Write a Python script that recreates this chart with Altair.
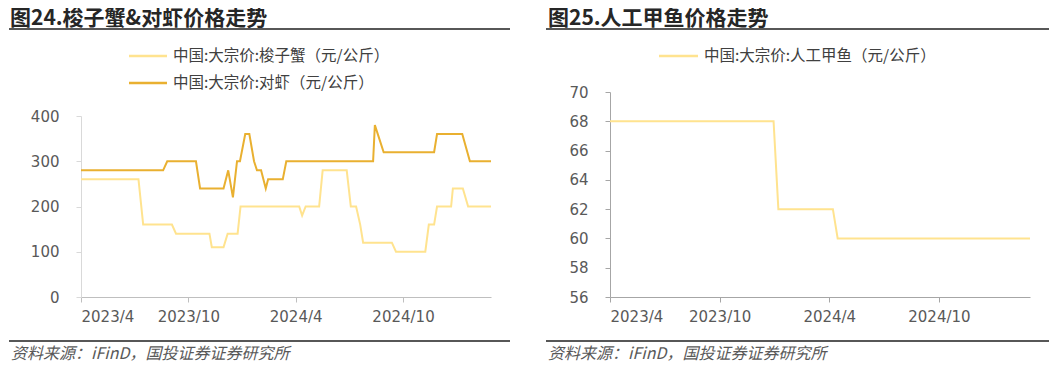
import altair as alt
import pandas as pd

# ---------------- data ----------------
crab_name = "中国:大宗价:梭子蟹（元/公斤）"
shrimp_name = "中国:大宗价:对虾（元/公斤）"
turtle_name = "中国:大宗价:人工甲鱼（元/公斤）"

crab_dates = ["2023-04-01", "2023-07-08", "2023-07-16", "2023-09-03", "2023-09-10",
              "2023-11-06", "2023-11-10", "2023-11-30", "2023-12-07", "2023-12-24",
              "2023-12-29", "2024-04-07", "2024-04-12", "2024-04-18", "2024-05-11",
              "2024-05-17", "2024-06-27", "2024-07-04", "2024-07-13", "2024-07-20",
              "2024-07-25", "2024-09-12", "2024-09-19", "2024-11-08", "2024-11-14",
              "2024-11-23", "2024-11-28", "2024-12-22", "2024-12-25", "2025-01-11",
              "2025-01-20", "2025-02-28"]
crab_values = [260, 260, 160, 160, 140,
               140, 110, 110, 140, 140,
               200, 200, 180, 200, 200,
               280, 280, 200, 200, 160,
               120, 120, 100, 100, 160,
               160, 200, 200, 240, 240,
               200, 200]

shrimp_dates = ["2023-04-01", "2023-08-19", "2023-08-26", "2023-10-14", "2023-10-21",
                "2023-11-30", "2023-12-08", "2023-12-16", "2023-12-23", "2023-12-28",
                "2024-01-06", "2024-01-13", "2024-01-21", "2024-01-26", "2024-02-02",
                "2024-02-10", "2024-02-14", "2024-03-10", "2024-03-16", "2024-08-11",
                "2024-08-14", "2024-08-19", "2024-08-29", "2024-11-23", "2024-11-28",
                "2025-01-10", "2025-01-23", "2025-02-28"]
shrimp_values = [280, 280, 300, 300, 240,
                 240, 280, 220, 300, 300,
                 360, 360, 300, 280, 280,
                 240, 260, 260, 300, 300,
                 380, 360, 320, 320, 360,
                 360, 300, 300]

turtle_dates = ["2023-04-01", "2023-12-30", "2024-01-07", "2024-04-07", "2024-04-15", "2025-03-02"]
turtle_values = [68, 68, 62, 62, 60, 60]

tick_dates = ["2023-04-01", "2023-10-01", "2024-04-01", "2024-10-01"]
left_y_ticks = [0, 100, 200, 300, 400]
right_y_ticks = [56, 58, 60, 62, 64, 66, 68, 70]

title_left = "图24.梭子蟹&对虾价格走势"
title_right = "图25.人工甲鱼价格走势"
source_text = "资料来源：iFinD，国投证券证券研究所"

crab_color = "#FFE38F"
shrimp_color = "#E9B030"

# ---------------- helpers ----------------
LABEL_FONT = "DejaVu Sans"
CJK = "Noto Sans CJK SC"


def one():
    return alt.Data(values=[{}])


def rule(x1, x2, y, color="#1f1f1f", w=1.5):
    return alt.Chart(one()).mark_rule(color=color, strokeWidth=w).encode(
        x=alt.value(x1), x2=alt.value(x2), y=alt.value(y))


def text(x, y, s, **kw):
    return alt.Chart(one()).mark_text(align="left", **kw).encode(
        x=alt.value(x), y=alt.value(y), text=alt.value(s))


def dt(s):
    y, m, d = [int(v) for v in s.split("-")]
    return alt.DateTime(year=y, month=m, date=d, utc=True)


def x_enc(end, axis_color):
    return alt.X(
        "date:T",
        scale=alt.Scale(type="utc", domain=[dt("2023-04-01"), dt(end)]),
        axis=alt.Axis(
            title=None, values=[dt(t) for t in tick_dates],
            labelExpr="utcFormat(datum.value, '%Y/%-m')",
            grid=False, domainColor=axis_color, tickColor=axis_color,
            tickSize=5, labelPadding=7, labelFont=LABEL_FONT, labelFontSize=15,
            labelColor="#595959", labelAngle=0,
        ),
    )


def y_axis(values, color):
    return alt.Axis(title=None, values=values, grid=False,
                    domainColor=color, tickColor=color, tickSize=5,
                    labelPadding=17, labelFont=LABEL_FONT, labelFontSize=15,
                    labelColor="#595959")


H = 205          # both panels share the same plot top; left scale uses a shorter range
TITLE_Y = -84
LEG_FONT = 15.5
TITLE_FONT = 21
SRC_FONT = 16

# ---------------- left panel ----------------
left_df = pd.DataFrame({
    "date": crab_dates + shrimp_dates,
    "value": crab_values + shrimp_values,
    "series": [crab_name] * len(crab_dates) + [shrimp_name] * len(shrimp_dates),
})

left_lines = alt.Chart(left_df).mark_line(strokeWidth=2).encode(
    x=x_enc("2025-02-28", "#BFBFBF"),
    y=alt.Y("value:Q", scale=alt.Scale(domain=[0, 400], nice=False, range=[H, 24]),
            axis=y_axis(left_y_ticks, "#D9D9D9")),
    color=alt.Color("series:N", scale=alt.Scale(domain=[crab_name, shrimp_name],
                                                range=[crab_color, shrimp_color]),
                    legend=None),
)

left_panel = alt.layer(
    left_lines,
    text(-71, TITLE_Y, title_left, baseline="top", font=CJK, fontSize=TITLE_FONT,
         fontWeight="bold", color="#262626"),
    rule(-72, 429, -63),
    rule(48, 86, -36, crab_color, 2.5),
    text(92, -36, crab_name, baseline="middle", font=CJK, fontSize=LEG_FONT, color="#404040"),
    rule(48, 86, -9, shrimp_color, 2.5),
    text(92, -9, shrimp_name, baseline="middle", font=CJK, fontSize=LEG_FONT, color="#404040"),
    rule(-72, 429, 249),
    text(-70, 262, source_text, baseline="middle", font=CJK, fontSize=SRC_FONT,
         fontStyle="italic", color="#595959"),
).properties(width=410, height=H)

# ---------------- right panel ----------------
right_df = pd.DataFrame({"date": turtle_dates, "value": turtle_values})

right_line = alt.Chart(right_df).mark_line(strokeWidth=2, color=crab_color).encode(
    x=x_enc("2025-03-02", "#A6A6A6"),
    y=alt.Y("value:Q", scale=alt.Scale(domain=[56, 70], nice=False, zero=False),
            axis=y_axis(right_y_ticks, "#A6A6A6")),
)

right_panel = alt.layer(
    right_line,
    text(-62, TITLE_Y, title_right, baseline="top", font=CJK, fontSize=TITLE_FONT,
         fontWeight="bold", color="#262626"),
    rule(-64, 439, -63),
    rule(49, 88, -36, crab_color, 2.5),
    text(94, -36, turtle_name, baseline="middle", font=CJK, fontSize=LEG_FONT, color="#404040"),
    rule(-64, 439, 249),
    text(-62, 262, source_text, baseline="middle", font=CJK, fontSize=SRC_FONT,
         fontStyle="italic", color="#595959"),
).properties(width=420, height=H)

chart = alt.hconcat(left_panel, right_panel, spacing=34).properties(
    padding={"left": 0, "top": 0, "right": 0, "bottom": 4}
).configure_view(stroke=None)

chart.save("out.html", embed_options={"renderer": "svg", "actions": False})
